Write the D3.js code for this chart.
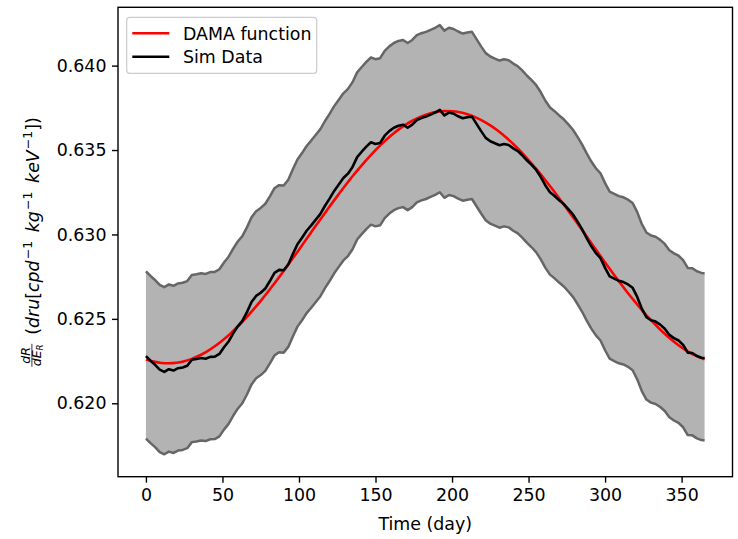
<!DOCTYPE html>
<html><head><meta charset="utf-8">
<script src="https://cdn.jsdelivr.net/npm/d3@7"></script>
<style>body{margin:0;background:#fff} svg{display:block} text{font-family:"DejaVu Sans",sans-serif}</style>
</head><body><svg id="chart" width="738" height="539"></svg>
<script>
// ---------- data ----------
const xTickValues = [0, 50, 100, 150, 200, 250, 300, 350];
const yTickValues = [0.620, 0.625, 0.630, 0.635, 0.640];
const legendLabels = ["DAMA function", "Sim Data"];
const xLabel = "Time (day)";

const damaDays = [0,5,10,15,20,25,30,35,40,45,50,55,60,65,70,75,80,85,90,95,100,105,110,115,120,125,130,135,140,145,150,155,160,165,170,175,180,185,190,195,200,205,210,215,220,225,230,235,240,245,250,255,260,265,270,275,280,285,290,295,300,305,310,315,320,325,330,335,340,345,350,355,360,365];
const damaValues = [0.62260,0.62247,0.62239,0.62237,0.62240,0.62249,0.62263,0.62283,0.62308,0.62338,0.62372,0.62411,0.62455,0.62502,0.62553,0.62607,0.62664,0.62723,0.62784,0.62847,0.62910,0.62974,0.63039,0.63102,0.63165,0.63227,0.63287,0.63345,0.63399,0.63451,0.63500,0.63544,0.63585,0.63621,0.63652,0.63678,0.63699,0.63715,0.63726,0.63731,0.63730,0.63724,0.63712,0.63695,0.63673,0.63646,0.63614,0.63577,0.63536,0.63490,0.63441,0.63389,0.63333,0.63275,0.63215,0.63153,0.63090,0.63026,0.62961,0.62897,0.62834,0.62772,0.62711,0.62652,0.62596,0.62542,0.62492,0.62446,0.62403,0.62365,0.62331,0.62302,0.62279,0.62260];

const simDays = [0,3,6,9,12,15,18,21,24,27,30,33,36,39,42,45,48,51,54,57,60,63,66,69,72,75,78,81,84,87,90,93,96,99,102,105,108,111,114,117,120,123,126,129,132,135,138,141,144,147,150,153,156,159,162,165,168,171,174,177,180,183,186,189,192,195,198,201,204,207,210,213,216,219,222,225,228,231,234,237,240,243,246,249,252,255,258,261,264,267,270,273,276,279,282,285,288,291,294,297,300,303,306,309,312,315,318,321,324,327,330,333,336,339,342,345,348,351,354,357,360,363,365];
const simValues = [0.62279,0.62252,0.62228,0.62199,0.62186,0.62202,0.62194,0.62208,0.62212,0.62222,0.62258,0.62262,0.62268,0.62264,0.62275,0.62276,0.62292,0.62332,0.62366,0.62414,0.62456,0.62488,0.62540,0.62600,0.62636,0.62655,0.62680,0.62724,0.62772,0.62790,0.62788,0.62822,0.62884,0.62942,0.62980,0.63022,0.63054,0.63088,0.63122,0.63170,0.63212,0.63258,0.63296,0.63334,0.63360,0.63400,0.63458,0.63490,0.63520,0.63546,0.63536,0.63542,0.63585,0.63612,0.63632,0.63644,0.63650,0.63632,0.63650,0.63678,0.63690,0.63698,0.63710,0.63722,0.63738,0.63705,0.63722,0.63715,0.63700,0.63688,0.63694,0.63698,0.63655,0.63612,0.63572,0.63552,0.63540,0.63528,0.63536,0.63530,0.63510,0.63494,0.63468,0.63438,0.63412,0.63382,0.63340,0.63290,0.63250,0.63228,0.63203,0.63180,0.63150,0.63118,0.63076,0.63030,0.62978,0.62930,0.62890,0.62860,0.62802,0.62752,0.62738,0.62725,0.62718,0.62704,0.62684,0.62630,0.62560,0.62510,0.62492,0.62484,0.62466,0.62442,0.62405,0.62386,0.62372,0.62346,0.62300,0.62298,0.62280,0.62270,0.62268];
const simErrUp = 0.00502;
const simErrDown = 0.00488;

// ---------- layout ----------
const plot = {left: 118, right: 732.5, top: 7.3, bottom: 476.7};
const FS = 17.4;
const svg = d3.select("#chart");

const x = d3.scaleLinear().domain([-18.25, 383.25]).range([plot.left, plot.right]);
const y = d3.scaleLinear().domain([0.615652, 0.643454]).range([plot.bottom, plot.top]);

const sim = simDays.map((d, i) => ({day: d, v: simValues[i]}));
const dama = damaDays.map((d, i) => ({day: d, v: damaValues[i]}));

// band
svg.append("path").datum(sim)
  .attr("d", d3.area().x(d => x(d.day)).y0(d => y(d.v - simErrDown)).y1(d => y(d.v + simErrUp)))
  .attr("fill", "#b3b3b3");
const edgeLine = f => d3.line().x(d => x(d.day)).y(d => y(f(d)));
svg.append("path").datum(sim).attr("d", edgeLine(d => d.v + simErrUp))
  .attr("fill", "none").attr("stroke", "#666666").attr("stroke-width", 2.5).attr("stroke-linejoin", "round");
svg.append("path").datum(sim).attr("d", edgeLine(d => d.v - simErrDown))
  .attr("fill", "none").attr("stroke", "#666666").attr("stroke-width", 2.5).attr("stroke-linejoin", "round");

// DAMA function
svg.append("path").datum(dama)
  .attr("d", d3.line().x(d => x(d.day)).y(d => y(d.v)).curve(d3.curveMonotoneX))
  .attr("fill", "none").attr("stroke", "#ff0000").attr("stroke-width", 2.6);
// Sim data
svg.append("path").datum(sim)
  .attr("d", d3.line().x(d => x(d.day)).y(d => y(d.v)))
  .attr("fill", "none").attr("stroke", "#000000").attr("stroke-width", 2.6).attr("stroke-linejoin", "round");

// frame
svg.append("rect").attr("x", plot.left).attr("y", plot.top)
  .attr("width", plot.right - plot.left).attr("height", plot.bottom - plot.top)
  .attr("fill", "none").attr("stroke", "#000").attr("stroke-width", 1.4);

// axes
const xAxis = svg.append("g").attr("transform", `translate(0,${plot.bottom})`)
  .call(d3.axisBottom(x).tickValues(xTickValues).tickFormat(d3.format("d")).tickSize(6).tickPadding(6).tickSizeOuter(0));
const yAxis = svg.append("g").attr("transform", `translate(${plot.left},0)`)
  .call(d3.axisLeft(y).tickValues(yTickValues).tickFormat(d3.format(".3f")).tickSize(6).tickPadding(5.5).tickSizeOuter(0));
[xAxis, yAxis].forEach(a => {
  a.select(".domain").remove();
  a.selectAll(".tick line").attr("stroke", "#000").attr("stroke-width", 1.4);
  a.selectAll(".tick text").attr("font-size", FS).attr("fill", "#000").attr("font-family", "DejaVu Sans");
});

// x label
svg.append("text").attr("x", (plot.left + plot.right) / 2).attr("y", 530)
  .attr("text-anchor", "middle").attr("font-size", FS).attr("fill", "#000").text(xLabel);

// y label (rotated)
const cy = (plot.top + plot.bottom) / 2;
const yl = svg.append("g").attr("transform", `translate(38.5,${cy}) rotate(-90)`);
const frac = yl.append("g");
const main = yl.append("text").attr("font-size", FS).attr("fill", "#000");
const pieces = [
  {t: "(", it: false}, {t: "dru", it: true}, {t: "[", it: false}, {t: "cpd", it: true}, {sup: "\u22121"},
  {t: "\u2002", it: false}, {t: "kg", it: true}, {sup: "\u22121"}, {t: "\u2002", it: false}, {t: "keV", it: true},
  {sup: "\u22121"}, {t: "])", it: false}
];
let shifted = false;
pieces.forEach(p => {
  if (p.sup) {
    main.append("tspan").attr("font-size", FS * 0.72).attr("dx", 1).attr("dy", -7).text(p.sup);
    shifted = true;
  } else {
    const ts = main.append("tspan").text(p.t).attr("font-style", p.it ? "italic" : "normal");
    if (shifted) { ts.attr("dy", 7); shifted = false; }
  }
});
const mainLen = main.node().getComputedTextLength() + 3;
const fs2 = FS * 0.72;
const num = frac.append("text").attr("font-size", fs2).attr("font-style", "italic").attr("text-anchor", "middle").attr("y", -9).text("dR");
const den = frac.append("text").attr("font-size", fs2).attr("text-anchor", "middle").attr("y", 2.8);
den.append("tspan").attr("font-style", "italic").text("dE");
den.append("tspan").attr("font-style", "italic").attr("font-size", fs2 * 0.7).attr("dy", 2).text("R");
const fw = Math.max(num.node().getComputedTextLength(), den.node().getComputedTextLength()) + 1;
num.attr("x", fw / 2); den.attr("x", fw / 2);
frac.append("line").attr("x1", 0).attr("x2", fw).attr("y1", -6.6).attr("y2", -6.6).attr("stroke", "#000").attr("stroke-width", 0.8);
const gap = 9;
const total = fw + gap + mainLen;
frac.attr("transform", `translate(${-total / 2},0)`);
main.attr("x", -total / 2 + fw + gap);

// legend
const lg = svg.append("g");
lg.append("rect").attr("x", 126.7).attr("y", 17.3).attr("width", 190).attr("height", 56).attr("rx", 3)
  .attr("fill", "#fff").attr("fill-opacity", 0.8).attr("stroke", "#cccccc").attr("stroke-width", 1.2);
const legendColors = ["#ff0000", "#000000"];
legendLabels.forEach((lab, i) => {
  const ly = 33.3 + i * 23.4;
  lg.append("line").attr("x1", 132.3).attr("x2", 169.3).attr("y1", ly).attr("y2", ly)
    .attr("stroke", legendColors[i]).attr("stroke-width", 2.6);
  lg.append("text").attr("x", 183).attr("y", ly + 6.2).attr("font-size", FS).attr("fill", "#000").text(lab);
});
</script></body></html>
